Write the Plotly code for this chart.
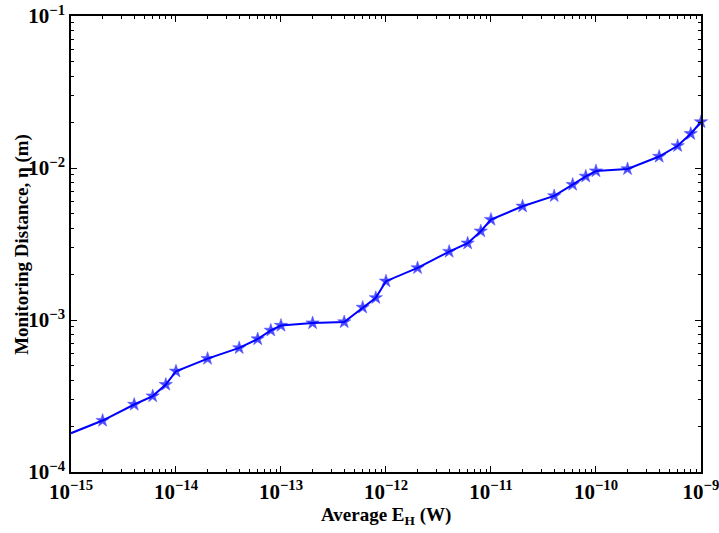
import plotly.graph_objects as go

power_w = [1e-15, 2e-15, 4e-15, 6e-15, 8e-15, 1e-14, 2e-14, 4e-14, 6e-14, 8e-14, 1e-13,
           2e-13, 4e-13, 6e-13, 8e-13, 1e-12, 2e-12, 4e-12, 6e-12, 8e-12, 1e-11,
           2e-11, 4e-11, 6e-11, 8e-11, 1e-10, 2e-10, 4e-10, 6e-10, 8e-10, 1e-9]
distance_m = [1.80e-4, 2.18e-4, 2.78e-4, 3.16e-4, 3.76e-4, 4.6e-4, 5.57e-4, 6.55e-4, 7.5e-4, 8.55e-4, 9.2e-4,
              9.55e-4, 9.7e-4, 1.21e-3, 1.40e-3, 1.80e-3, 2.2e-3, 2.82e-3, 3.2e-3, 3.84e-3, 4.58e-3,
              5.6e-3, 6.55e-3, 7.78e-3, 8.82e-3, 9.55e-3, 9.86e-3, 1.19e-2, 1.40e-2, 1.68e-2, 2.01e-2]
marker_sizes = [0] + [10] * (len(power_w) - 1)

x_exps = [-15, -14, -13, -12, -11, -10, -9]
y_exps = [-4, -3, -2, -1]

font_family = "Liberation Serif"

x_major = [10.0 ** e for e in x_exps]
x_text = ["10<sup>\u2212%d</sup>" % (-e) for e in x_exps]
y_major = [10.0 ** e for e in y_exps]
y_text = ["10<sup>\u2212%d</sup>" % (-e) for e in y_exps]
x_minor = [m * 10.0 ** e for e in x_exps[:-1] for m in range(2, 10)]
y_minor = [m * 10.0 ** e for e in y_exps[:-1] for m in range(2, 10)]

fig = go.Figure()
fig.add_trace(go.Scatter(
    x=power_w, y=distance_m, mode="lines+markers",
    line=dict(color="rgb(0,0,255)", width=2),
    marker=dict(symbol="star", size=marker_sizes, color="rgb(0,0,255)",
                line=dict(width=0.5, color="rgb(0,0,255)")),
    cliponaxis=False, showlegend=False,
))

axis_common = dict(
    showgrid=False, zeroline=False, showline=True, linecolor="black", linewidth=1.5,
    mirror="ticks", ticks="inside", ticklen=6, tickwidth=1, tickcolor="black",
    tickfont=dict(family=font_family, size=21, color="black", weight="bold"),
    tickmode="array", automargin=False, ticklabeloverflow="allow",
)

fig.update_xaxes(type="log", range=[-15, -8.9995], tickvals=x_major, ticktext=x_text,
                 minor=dict(tickmode="array", tickvals=x_minor, ticks="inside", ticklen=3,
                            tickcolor="black", tickwidth=1),
                 **axis_common)
fig.update_yaxes(type="log", range=[-4, -1], tickvals=y_major, ticktext=y_text, ticklabelstandoff=0,
                 minor=dict(tickmode="array", tickvals=y_minor, ticks="inside", ticklen=3,
                            tickcolor="black", tickwidth=1),
                 **axis_common)

fig.add_annotation(text="Average E<sub>H</sub> (W)", xref="paper", yref="paper",
                   x=0.5, y=-0.066, yanchor="top", showarrow=False,
                   font=dict(family=font_family, size=19, color="black", weight="bold"))
fig.add_annotation(text="Monitoring Distance, \u03b7 (m)", xref="paper", yref="paper",
                   x=-0.078, y=0.5, textangle=-90, xanchor="center", yanchor="middle",
                   showarrow=False,
                   font=dict(family=font_family, size=19, color="black", weight="bold"))

fig.update_layout(
    width=719, height=533,
    margin=dict(l=71, r=18, t=16, b=61),
    paper_bgcolor="white", plot_bgcolor="white",
    font=dict(family=font_family, color="black"),
)

fig.write_html("out.html")
